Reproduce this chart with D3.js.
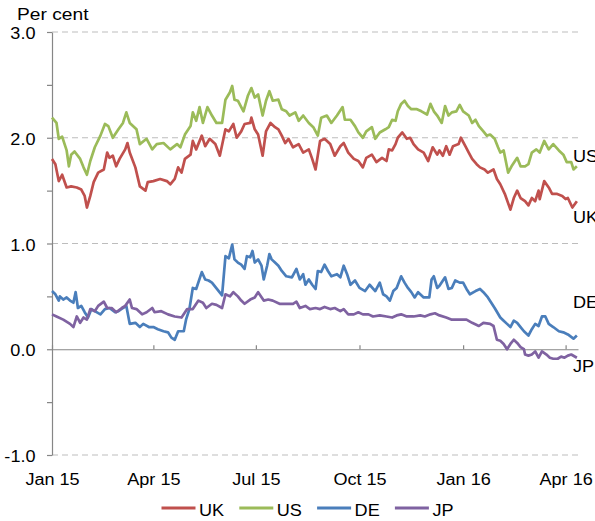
<!DOCTYPE html>
<html>
<head>
<meta charset="utf-8">
<script src="https://cdn.jsdelivr.net/npm/d3@7"></script>
<style>
  body { margin: 0; background: #fff; }
  text { font-family: "Liberation Sans", Arial, sans-serif; fill: #000; }
</style>
</head>
<body>
<svg id="chart" width="595" height="521"></svg>
<script>
  // Data: day offset from 1 Jan 2015, and value in per cent
  const seriesNames = ["UK", "US", "DE", "JP"];
  const seriesColors = ["#c0504d", "#9bbb59", "#4a7ebb", "#7f62a1"];

  const ukDays = [0,3,6,9,13,17,22,26,29,31,34,37,41,46,49,51,54,57,60,65,67,69,74,78,83,85,90,96,102,105,109,112,115,118,123,125,128,133,136,140,145,149,154,157,161,164,168,171,176,177,180,183,187,190,194,198,201,204,207,210,214,219,223,228,231,234,238,242,247,251,256,259,263,268,272,276,279,284,288,293,297,299,302,305,307,311,315,318,321,325,330,334,338,342,344,347,350,353,356,361,363,367,370,373,377,380,384,387,392,395,398,402,407,410,413,416,420,423,426,429,432,433,437,441,444,448,453,456,458,462,466];
  const ukValues = [1.80,1.75,1.59,1.65,1.53,1.54,1.53,1.51,1.45,1.34,1.45,1.58,1.67,1.70,1.86,1.81,1.83,1.73,1.80,1.89,1.95,1.86,1.72,1.54,1.50,1.58,1.59,1.61,1.59,1.56,1.61,1.72,1.67,1.80,1.84,1.97,1.89,2.02,1.92,1.99,1.94,1.83,2.08,2.06,2.13,2.00,2.06,2.13,2.14,2.19,2.08,2.03,1.83,2.06,2.14,2.10,2.08,2.02,1.95,1.99,1.91,1.94,1.86,1.89,1.80,1.70,1.97,1.99,1.94,1.83,1.92,1.95,1.86,1.80,1.78,1.72,1.81,1.84,1.77,1.81,1.78,1.89,1.88,1.94,2.00,2.05,1.99,2.00,1.94,1.89,1.86,1.78,1.91,1.84,1.88,1.83,1.92,1.84,1.92,1.94,2.00,1.92,1.86,1.80,1.75,1.72,1.70,1.67,1.70,1.61,1.56,1.47,1.32,1.43,1.50,1.43,1.40,1.36,1.43,1.40,1.50,1.42,1.59,1.53,1.47,1.47,1.45,1.42,1.43,1.34,1.40];

  const usDays = [0,4,6,9,13,15,17,20,25,28,31,34,38,43,47,50,54,59,63,66,69,75,78,84,89,93,99,105,111,114,118,123,125,128,131,134,138,142,146,151,154,158,160,162,165,170,174,177,180,183,187,190,193,196,201,204,208,211,216,219,223,228,232,236,239,244,248,253,258,260,265,269,272,276,279,284,287,291,296,299,302,305,307,310,313,316,319,324,328,333,336,339,342,346,349,352,355,359,362,365,370,373,376,379,383,386,389,393,396,398,401,405,408,413,416,420,423,426,430,433,437,441,445,450,454,457,461,463,466];
  const usValues = [2.19,2.14,1.99,2.01,1.88,1.73,1.84,1.87,1.80,1.72,1.65,1.78,1.91,2.02,2.13,2.11,2.00,2.08,2.14,2.24,2.14,2.08,1.94,1.99,1.89,1.94,1.95,1.89,1.94,1.91,2.03,2.11,2.24,2.16,2.29,2.14,2.29,2.21,2.14,2.14,2.36,2.43,2.49,2.36,2.35,2.25,2.40,2.47,2.38,2.41,2.21,2.35,2.44,2.35,2.36,2.27,2.25,2.21,2.24,2.16,2.21,2.14,2.10,2.02,2.19,2.21,2.14,2.21,2.29,2.17,2.17,2.11,2.05,2.00,2.06,2.10,1.99,2.05,2.08,2.10,2.17,2.16,2.25,2.32,2.35,2.30,2.27,2.27,2.25,2.22,2.32,2.25,2.21,2.14,2.30,2.21,2.24,2.25,2.31,2.25,2.21,2.14,2.17,2.11,2.06,2.02,2.03,1.99,1.91,1.86,1.88,1.67,1.73,1.81,1.73,1.73,1.75,1.86,1.89,1.86,1.97,1.89,1.94,1.88,1.84,1.77,1.77,1.70,1.73];

  const deDays = [0,3,6,7,10,13,16,19,21,23,26,29,32,35,38,43,47,51,56,59,63,66,69,74,78,81,86,90,94,99,103,106,109,112,117,119,122,125,128,133,136,139,142,145,148,151,154,157,160,162,165,168,171,173,176,178,180,183,186,188,191,193,195,198,201,204,208,213,217,220,223,225,228,231,234,236,239,242,245,248,253,256,259,262,265,269,273,278,282,287,291,294,297,300,303,306,310,313,316,319,322,325,330,335,337,339,342,344,349,352,355,358,362,365,368,371,376,380,383,387,390,393,398,401,404,407,410,413,416,419,423,426,429,432,435,438,441,445,450,454,458,463,466];
  const deValues = [0.55,0.52,0.46,0.50,0.47,0.49,0.46,0.44,0.54,0.39,0.41,0.35,0.30,0.38,0.36,0.33,0.38,0.39,0.35,0.36,0.39,0.41,0.24,0.25,0.21,0.24,0.21,0.21,0.19,0.17,0.16,0.11,0.09,0.17,0.17,0.28,0.38,0.58,0.57,0.73,0.66,0.65,0.63,0.59,0.55,0.51,0.88,0.86,0.99,0.85,0.82,0.80,0.76,0.88,0.87,0.93,0.82,0.85,0.79,0.66,0.79,0.90,0.85,0.82,0.79,0.74,0.69,0.68,0.76,0.66,0.71,0.61,0.66,0.61,0.57,0.74,0.73,0.80,0.74,0.69,0.71,0.68,0.79,0.71,0.61,0.65,0.58,0.55,0.61,0.55,0.63,0.52,0.50,0.46,0.55,0.58,0.69,0.63,0.58,0.54,0.49,0.54,0.49,0.49,0.66,0.69,0.58,0.60,0.68,0.57,0.58,0.65,0.63,0.63,0.57,0.52,0.55,0.57,0.54,0.49,0.44,0.39,0.30,0.27,0.24,0.21,0.27,0.25,0.21,0.17,0.13,0.19,0.24,0.22,0.31,0.31,0.24,0.21,0.17,0.16,0.14,0.10,0.13];

  const jpDays = [0,4,10,16,19,22,25,28,31,34,38,41,46,49,53,57,62,65,69,71,75,80,84,89,91,97,103,109,115,120,125,130,134,137,142,146,151,154,158,161,165,168,171,176,180,183,188,192,196,202,208,214,217,220,225,229,234,238,242,247,251,256,259,263,268,272,276,281,285,291,297,302,306,310,315,321,327,331,336,340,344,350,355,359,362,368,373,379,383,389,392,395,398,401,404,407,410,413,416,419,420,423,426,429,432,435,439,442,445,449,452,455,458,461,466];
  const jpValues = [0.33,0.31,0.28,0.24,0.21,0.31,0.25,0.30,0.28,0.38,0.36,0.41,0.45,0.39,0.39,0.35,0.39,0.41,0.47,0.39,0.38,0.33,0.35,0.39,0.35,0.36,0.33,0.31,0.30,0.38,0.38,0.46,0.44,0.39,0.43,0.42,0.39,0.52,0.50,0.54,0.50,0.46,0.43,0.47,0.49,0.54,0.46,0.47,0.46,0.43,0.43,0.43,0.45,0.39,0.41,0.38,0.39,0.38,0.40,0.38,0.39,0.36,0.38,0.33,0.33,0.35,0.33,0.33,0.31,0.32,0.31,0.30,0.32,0.33,0.31,0.31,0.32,0.31,0.33,0.34,0.32,0.30,0.28,0.28,0.28,0.28,0.25,0.22,0.25,0.24,0.22,0.09,0.08,0.05,0.00,0.05,0.09,0.06,0.02,0.00,-0.05,-0.06,-0.05,-0.02,-0.08,-0.02,-0.05,-0.08,-0.09,-0.09,-0.07,-0.08,-0.06,-0.05,-0.08];

  const yTickValues = [-1, -0.5, 0, 0.5, 1, 1.5, 2, 2.5, 3];
  const gridValues = [3, 2, 1, -1];
  const xTickLabels = ["Jan 15", "Apr 15", "Jul 15", "Oct 15", "Jan 16", "Apr 16"];
  const xTickDates = ["2015-01-01", "2015-04-01", "2015-07-01", "2015-10-01", "2016-01-01", "2016-04-01"];

  // Chart dimensions
  const width = 595;
  const height = 521;
  const marginTop = 32;
  const marginRight = 17;
  const marginBottom = 66;
  const marginLeft = 52;
  const sx = 1.13; // the original text is a little wide

  const start = new Date(Date.UTC(2015, 0, 1));
  const end = d3.utcDay.offset(start, 467);

  const x = d3.scaleUtc().domain([start, end]).range([marginLeft, width - marginRight]);
  const y = d3.scaleLinear().domain([-1, 3]).range([height - marginBottom, marginTop]);

  const svg = d3.select("#chart");

  function label(px, py, str, anchor, size) {
    return svg.append("text")
      .attr("transform", `translate(${px},${py}) scale(${sx},1)`)
      .attr("text-anchor", anchor || "start")
      .style("font-size", (size || 16) + "px")
      .text(str);
  }

  // Gridlines
  svg.append("g")
    .selectAll("line")
    .data(gridValues)
    .join("line")
    .attr("x1", marginLeft)
    .attr("x2", width - marginRight)
    .attr("y1", (d) => y(d))
    .attr("y2", (d) => y(d))
    .attr("stroke", "#bdbdbd")
    .attr("stroke-width", 1)
    .attr("stroke-dasharray", "6,4");

  // Y axis
  const yAxis = svg.append("g")
    .attr("transform", `translate(${marginLeft},0)`)
    .call(d3.axisLeft(y)
      .tickValues(yTickValues)
      .tickSize(5)
      .tickSizeOuter(0)
      .tickFormat((d) => (Number.isInteger(d) ? d.toFixed(1) : "")));
  yAxis.select(".domain").attr("stroke", "#868686").attr("stroke-width", 1.2);
  yAxis.selectAll(".tick line").attr("stroke", "#868686").attr("stroke-width", 1.2);
  yAxis.selectAll(".tick text")
    .attr("x", -16.5 / sx)
    .attr("y", 1)
    .attr("dy", "0.35em")
    .attr("transform", `scale(${sx},1)`)
    .style("font-size", "16px")
    .style("font-family", '"Liberation Sans", Arial, sans-serif')
    .attr("fill", "#000");

  // X axis on the zero line, ticks pointing up, labels at the bottom
  const xAxis = svg.append("g")
    .attr("transform", `translate(0,${y(0)})`)
    .call(d3.axisBottom(x)
      .tickValues(xTickDates.map((s) => new Date(s + "T00:00:00Z")))
      .tickSize(-4)
      .tickSizeOuter(0)
      .tickFormat((d, i) => xTickLabels[i]));
  xAxis.select(".domain").attr("stroke", "#868686").attr("stroke-width", 1.2);
  xAxis.selectAll(".tick line").attr("stroke", "#868686").attr("stroke-width", 1.2);
  xAxis.selectAll(".tick text")
    .attr("y", 485 - y(0))
    .attr("dy", 0)
    .attr("transform", `scale(${sx},1)`)
    .style("font-size", "16px")
    .style("font-family", '"Liberation Sans", Arial, sans-serif')
    .attr("fill", "#000");

  // Series
  const seriesDays = [ukDays, usDays, deDays, jpDays];
  const seriesValues = [ukValues, usValues, deValues, jpValues];
  const series = seriesNames.map((name, i) => ({
    name: name,
    color: seriesColors[i],
    points: seriesDays[i].map((d, j) => ({ date: d3.utcDay.offset(start, d), value: seriesValues[i][j] }))
  }));

  const line = d3.line()
    .x((d) => x(d.date))
    .y((d) => y(d.value));

  svg.append("g")
    .selectAll("path")
    .data(series)
    .join("path")
    .attr("fill", "none")
    .attr("stroke", (d) => d.color)
    .attr("stroke-width", 2.7)
    .attr("stroke-linejoin", "round")
    .attr("d", (d) => line(d.points));

  // End labels (baselines placed by eye; cut by the right edge as in the original)
  const endLabelBaseline = { UK: 223, US: 161.5, DE: 308, JP: 372 };
  series.forEach((s) => label(573, endLabelBaseline[s.name], s.name, "start", 16));

  // Unit label
  label(17, 20, "Per cent", "start", 17);

  // Legend
  const legendX = 161.5;
  const legendStep = 77.8;
  const legendY = 508;
  series.forEach((s, i) => {
    const lx = legendX + i * legendStep;
    svg.append("line")
      .attr("x1", lx)
      .attr("x2", lx + 34)
      .attr("y1", legendY)
      .attr("y2", legendY)
      .attr("stroke", s.color)
      .attr("stroke-width", 2.8);
    label(lx + 37.5, 516, s.name, "start", 16);
  });
</script>
</body>
</html>
